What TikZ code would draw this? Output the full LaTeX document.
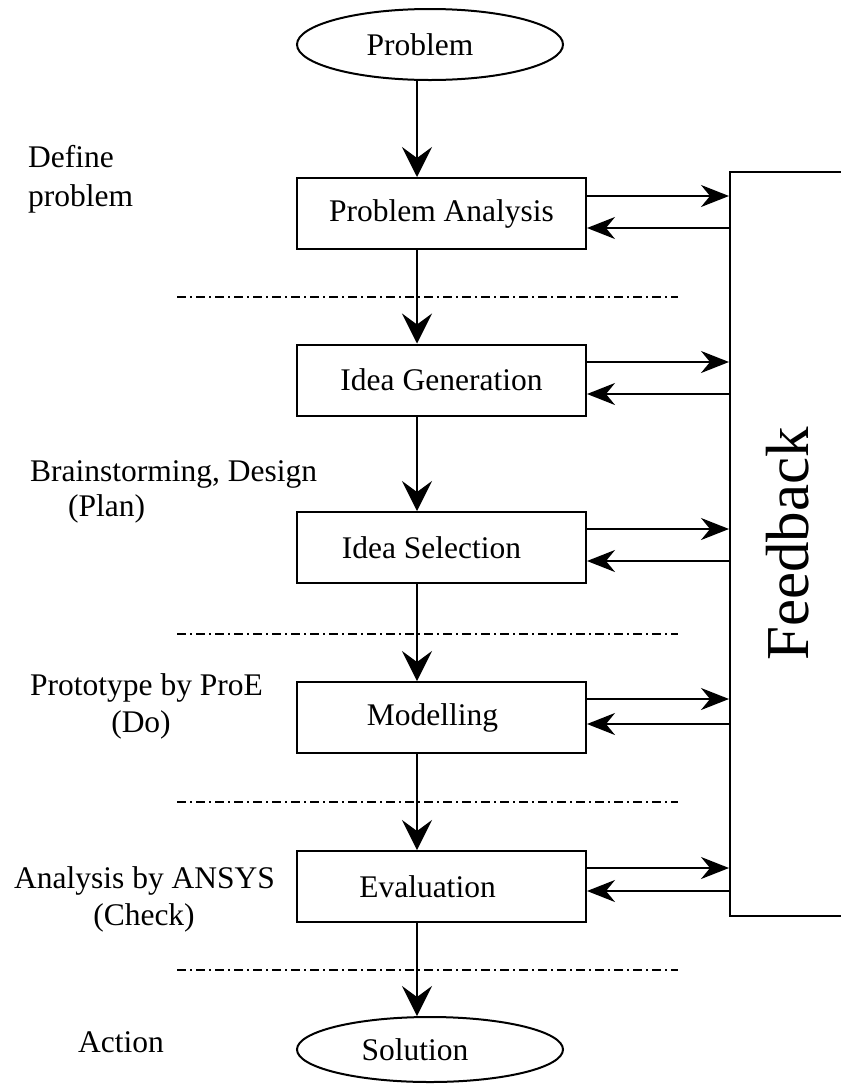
\documentclass[tikz,border=0pt]{standalone}
\usepackage{fontspec}
\setmainfont{Liberation Serif}
\usetikzlibrary{arrows.meta,shapes.geometric}
\begin{document}
\begin{tikzpicture}[x=1pt,y=-1pt,
  every node/.style={font=\fontsize{31.5}{36}\selectfont},
  box/.style={draw,line width=2pt,minimum width=289pt,minimum height=71pt,inner sep=0pt},
  oval/.style={draw,ellipse,line width=2pt,minimum width=266pt,minimum height=71pt,inner sep=0pt},
  varrow/.style={line width=2pt,-{Stealth[length=30pt,width=30pt,inset=11pt]}},
  harrow/.style={line width=2pt,-{Stealth[length=28pt,width=22pt,inset=9pt]}},
  sep/.style={line width=1.5pt,dash pattern=on 9pt off 4pt on 2pt off 4pt},
  lab/.style={anchor=base west,inner sep=0pt},
  clab/.style={anchor=base,inner sep=0pt}]
\useasboundingbox (0,0) rectangle (841,1088);
\clip (0,0) rectangle (841,1088);

% main flow
\node[oval] (prob) at (430,44.5) {\hspace*{-20pt}Problem};
\node[box] (pa) at (441.5,213.5) {Problem Analysis};
\node[box] (ig) at (441.5,380) {Idea Generation};
\node[box] (is) at (441.5,547.5) {\hspace*{-20pt}Idea Selection};
\node[box] (mo) at (441.5,717.5) {\hspace*{-18pt}Modelling};
\node[box] (ev) at (441.5,886.5) {\hspace*{-28pt}Evaluation};
\node[oval,minimum height=65pt] (sol) at (430,1049.5) {\hspace*{-30pt}Solution};

% feedback box
\node[draw,line width=2pt,minimum width=116pt,minimum height=744pt,inner sep=0pt,
      font=\fontsize{61}{70}\selectfont] (fb) at (788,544) {\rotatebox{90}{Feedback}};

% vertical arrows
\coordinate (ax) at (417,0);
\draw[varrow] (prob.south -| ax) -- (pa.north -| ax);
\draw[varrow] (pa.south -| ax) -- (ig.north -| ax);
\draw[varrow] (ig.south -| ax) -- (is.north -| ax);
\draw[varrow] (is.south -| ax) -- (mo.north -| ax);
\draw[varrow] (mo.south -| ax) -- (ev.north -| ax);
\draw[varrow] (ev.south -| ax) -- (sol.north -| ax);

% feedback arrows
\draw[harrow] (pa.east |- 0,196) -- (fb.west |- 0,196);
\draw[harrow] (fb.west |- 0,228) -- (pa.east |- 0,228);
\draw[harrow] (ig.east |- 0,362) -- (fb.west |- 0,362);
\draw[harrow] (fb.west |- 0,394) -- (ig.east |- 0,394);
\draw[harrow] (is.east |- 0,529) -- (fb.west |- 0,529);
\draw[harrow] (fb.west |- 0,561) -- (is.east |- 0,561);
\draw[harrow] (mo.east |- 0,699) -- (fb.west |- 0,699);
\draw[harrow] (fb.west |- 0,724) -- (mo.east |- 0,724);
\draw[harrow] (ev.east |- 0,868) -- (fb.west |- 0,868);
\draw[harrow] (fb.west |- 0,891) -- (ev.east |- 0,891);

% separators
\draw[sep] (177,297) -- (678,297);
\draw[sep] (177,634) -- (678,634);
\draw[sep] (177,802) -- (678,802);
\draw[sep] (177,970) -- (678,970);

% side labels
\node[lab] (l1a) at (28,167) {Define};
\node[lab] (l1b) at (28,206) {problem};
\node[lab] (l2a) at (30,481) {Brainstorming, Design};
\node[lab] (l2b) at (68,516) {(Plan)};
\node[lab] (l3a) at (30,695) {Prototype by ProE};
\node[clab] (l3b) at (141,732) {(Do)};
\node[lab] (l4a) at (14,888) {Analysis by ANSYS};
\node[clab] (l4b) at (144,925) {(Check)};
\node[lab] (l5) at (78,1052) {Action};
\end{tikzpicture}
\end{document}
